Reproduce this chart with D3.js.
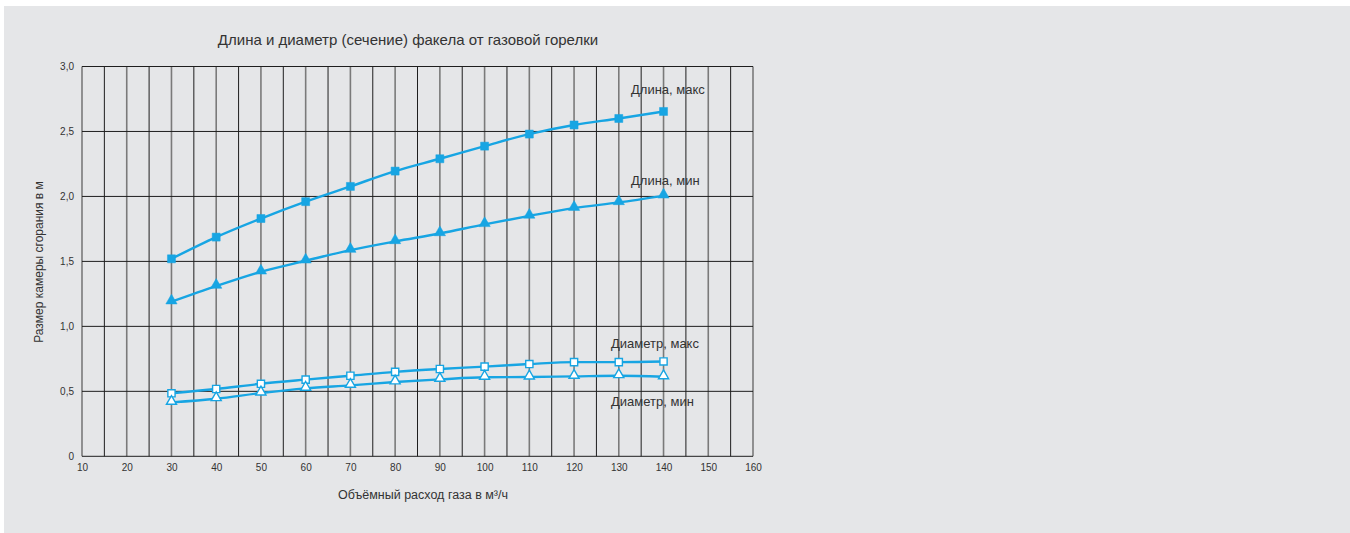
<!DOCTYPE html>
<html><head><meta charset="utf-8">
<script src="https://cdn.jsdelivr.net/npm/d3@7"></script>
<style>body{margin:0;background:#fff}svg{display:block}text{font-family:"Liberation Sans",Arial,sans-serif;fill:#333}</style>
</head><body>
<svg id="c" width="1350" height="533"></svg>
<script>
const flows = [30,40,50,60,70,80,90,100,110,120,130,140];
const lenMax = [1.52,1.687,1.83,1.96,2.077,2.195,2.29,2.387,2.48,2.55,2.6,2.654];
const lenMin = [1.19,1.31,1.42,1.505,1.587,1.654,1.715,1.785,1.85,1.91,1.954,2.005];
const diaMax = [0.485,0.518,0.558,0.59,0.62,0.65,0.672,0.69,0.71,0.725,0.725,0.73];
const diaMin = [0.415,0.443,0.487,0.523,0.546,0.572,0.592,0.608,0.61,0.615,0.62,0.612];
const xTicks = [10,20,30,40,50,60,70,80,90,100,110,120,130,140,150,160];
const yTicks = [0,0.5,1,1.5,2,2.5,3];
const seriesNames = ["Длина, макс","Длина, мин","Диаметр, макс","Диаметр, мин"];
const title = "Длина и диаметр (сечение) факела от газовой горелки";
const xTitle = "Объёмный расход газа в м³/ч";
const yTitle = "Размер камеры сгорания в м";

const svg = d3.select("#c");
svg.append("rect").attr("x",4).attr("y",6).attr("width",1346).attr("height",527).attr("fill","#e5e6e8");

const x = d3.scaleLinear().domain([10,160]).range([82,753]);
const y = d3.scaleLinear().domain([0,3]).range([456.3,66.5]);
const blue = "#17a5e3";

const g = svg.append("g");
const vlines = d3.range(10,161,5);
g.selectAll("line.v").data(vlines).enter().append("line")
  .attr("x1",d=>x(d)).attr("x2",d=>x(d)).attr("y1",y(0)).attr("y2",y(3))
  .attr("stroke",d=>d%10===0?"#7a7a7a":"#1e1e1e")
  .attr("stroke-width",d=>d%10===0?1.6:1);
g.selectAll("line.h").data(yTicks).enter().append("line")
  .attr("x1",x(10)).attr("x2",x(160)).attr("y1",d=>y(d)).attr("y2",d=>y(d))
  .attr("stroke","#1e1e1e").attr("stroke-width",1);

const xAxis = d3.axisBottom(x).tickValues(xTicks).tickSize(0).tickPadding(8).tickFormat(d=>d);
const ax = svg.append("g").attr("transform",`translate(0,${y(0)})`).call(xAxis);
ax.select(".domain").remove();
ax.selectAll("text").attr("font-size","10px").attr("fill","#333").attr("font-family","Liberation Sans, Arial, sans-serif");
const yAxis = d3.axisLeft(y).tickValues(yTicks).tickSize(0).tickPadding(8)
  .tickFormat(d=>d===0?"0":d3.format(".1f")(d).replace(".",","));
const ay = svg.append("g").attr("transform",`translate(${x(10)},0)`).call(yAxis);
ay.select(".domain").remove();
ay.selectAll("text").attr("font-size","10px").attr("fill","#333").attr("font-family","Liberation Sans, Arial, sans-serif");

svg.append("text").attr("x",408).attr("y",45).attr("text-anchor","middle").attr("font-size","15px").text(title);
svg.append("text").attr("x",423).attr("y",499).attr("text-anchor","middle").attr("font-size","12.5px").text(xTitle);
svg.append("text").attr("transform","translate(43,262) rotate(-90)").attr("text-anchor","middle").attr("font-size","12px").text(yTitle);

const all = [lenMax,lenMin,diaMax,diaMin];
const line = d3.line().x((d,i)=>x(flows[i])).y(d=>y(d)).curve(d3.curveMonotoneX);
const markers = [
  {type:d3.symbolSquare, size:64, fill:blue},
  {type:d3.symbolTriangle, size:55, fill:blue},
  {type:d3.symbolSquare, size:52, fill:"#fff"},
  {type:d3.symbolTriangle, size:44, fill:"#fff"}
];
all.forEach((s,k)=>{
  svg.append("path").datum(s).attr("d",line).attr("fill","none").attr("stroke",blue).attr("stroke-width",2.4);
});
all.forEach((s,k)=>{
  const m = markers[k];
  svg.append("g").selectAll("path").data(s).enter().append("path")
    .attr("transform",(d,i)=>`translate(${x(flows[i])},${y(d)+(m.type===d3.symbolTriangle?-1:0)})`)
    .attr("d",d3.symbol().type(m.type).size(m.size))
    .attr("fill",m.fill).attr("stroke",blue).attr("stroke-width",m.fill==="#fff"?1.4:0.5);
});

const labelPos = [[631,94],[631,185],[611,348],[611,406]];
seriesNames.forEach((n,k)=>{
  svg.append("text").attr("x",labelPos[k][0]).attr("y",labelPos[k][1]).attr("font-size","13px").text(n);
});
</script>
</body></html>
